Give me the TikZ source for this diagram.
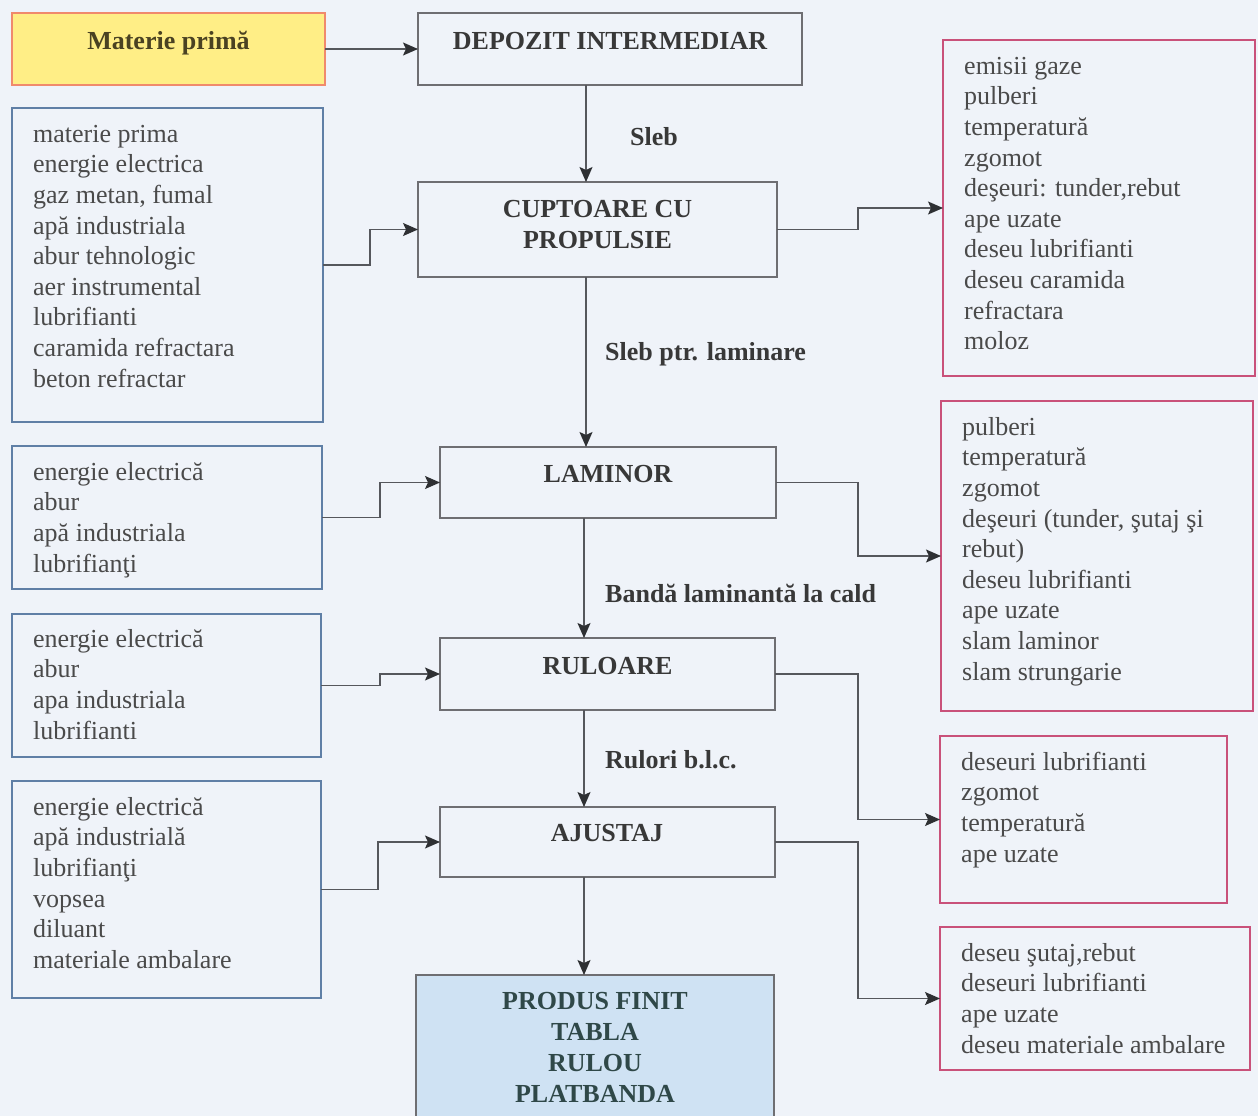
\documentclass[tikz,border=0pt]{standalone}
\usepackage{fontspec}
\setmainfont{Liberation Serif}
\usetikzlibrary{arrows.meta}

\definecolor{paper}{HTML}{EFF3F9}
\definecolor{procline}{HTML}{6E6E72}
\definecolor{inline}{HTML}{5F7FA6}
\definecolor{outline}{HTML}{C9517A}
\definecolor{rawfill}{HTML}{FFEE86}
\definecolor{rawline}{HTML}{F08A6C}
\definecolor{prodfill}{HTML}{CFE2F3}
\definecolor{listtext}{HTML}{4A4A4A}
\definecolor{headtext}{HTML}{383838}
\definecolor{prodtext}{HTML}{2F4848}
\definecolor{rawtext}{HTML}{4A4222}
\definecolor{wire}{HTML}{55575C}
\definecolor{tipc}{HTML}{2E3033}

\begin{document}
\begin{tikzpicture}[x=1pt,y=-1pt,
  frame/.style={draw, line width=1.6pt, inner sep=0pt, outer sep=0pt, anchor=north west},
  procbox/.style={frame, draw=procline},
  inbox/.style={frame, draw=inline},
  outbox/.style={frame, draw=outline},
  rawbox/.style={frame, draw=rawline, fill=rawfill},
  prodbox/.style={frame, draw=procline, fill=prodfill},
  listtxt/.style={inner sep=0pt, align=left, anchor=north west, text=listtext,
    font=\fontsize{26}{30.6}\selectfont},
  headtxt/.style={inner sep=0pt, anchor=base, text=headtext,
    font=\bfseries\fontsize{26}{31}\selectfont},
  headblock/.style={inner sep=0pt, align=center, anchor=north, text=headtext,
    font=\bfseries\fontsize{26}{31}\selectfont},
  flowlbl/.style={inner sep=0pt, anchor=base west, text=headtext,
    font=\bfseries\fontsize{26}{31}\selectfont},
  conn/.style={draw=wire, line width=1.5pt,
    -{Stealth[length=15pt,width=13pt,inset=3pt,color=tipc]}}
]
% page
\path[fill=paper] (0,0) rectangle (1258,1116);
\useasboundingbox (0,0) rectangle (1258,1116);

% main process column
\node[rawbox, minimum width=313pt, minimum height=72pt] (mat) at (12,13) {};
\node[procbox, minimum width=384pt, minimum height=72pt] (dep) at (418,13) {};
\node[procbox, minimum width=359pt, minimum height=95pt] (cup) at (418,182) {};
\node[procbox, minimum width=336pt, minimum height=71pt] (lam) at (440,447) {};
\node[procbox, minimum width=335pt, minimum height=72pt] (rul) at (440,638) {};
\node[procbox, minimum width=335pt, minimum height=70pt] (aju) at (440,807) {};
\node[prodbox, minimum width=358pt, minimum height=150pt] (prod) at (416,975) {};

\node[headtxt, text=rawtext] (matT) at (168.5,50) {Materie primă};
\node[headtxt] (depT) at (610,50) {DEPOZIT INTERMEDIAR};
\node[headblock] (cupT) at (597.5,195.5) {\strut CUPTOARE CU\\PROPULSIE};
\node[headtxt] (lamT) at (608,482) {LAMINOR};
\node[headtxt] (rulT) at (607.5,674) {RULOARE};
\node[headtxt] (ajuT) at (607,841) {AJUSTAJ};
\node[headblock, text=prodtext] (prodT) at (595,987.3) {\strut PRODUS FINIT\\TABLA\\RULOU\\PLATBANDA};

% inputs
\node[inbox, minimum width=311pt, minimum height=314pt] (in1) at (12,108) {};
\node[inbox, minimum width=310pt, minimum height=143pt] (in2) at (12,446) {};
\node[inbox, minimum width=309pt, minimum height=143pt] (in3) at (12,614) {};
\node[inbox, minimum width=309pt, minimum height=217pt] (in4) at (12,781) {};

\node[listtxt] (in1T) at (33,120.6) {\strut materie prima\\energie electrica\\gaz metan, fumal\\apă industriala\\abur tehnologic\\aer instrumental\\lubrifianti\\caramida refractara\\beton refractar};
\node[listtxt] (in2T) at (33,458.6) {\strut energie electrică\\abur\\apă industriala\\lubrifianţi};
\node[listtxt] (in3T) at (33,625.6) {\strut energie electrică\\abur\\apa industriala\\lubrifianti};
\node[listtxt] (in4T) at (33,793.6) {\strut energie electrică\\apă industrială\\lubrifianţi\\vopsea\\diluant\\materiale ambalare};

% outputs
\node[outbox, minimum width=312pt, minimum height=336pt] (out1) at (943,40) {};
\node[outbox, minimum width=312pt, minimum height=310pt] (out2) at (941,401) {};
\node[outbox, minimum width=287pt, minimum height=167pt] (out3) at (940,736) {};
\node[outbox, minimum width=310pt, minimum height=143pt] (out4) at (940,927) {};

\node[listtxt] (out1T) at (964,52.6) {\strut emisii gaze\\pulberi\\temperatură\\zgomot\\deşeuri: tunder,rebut\\ape uzate\\deseu lubrifianti\\deseu caramida\\refractara\\moloz};
\node[listtxt] (out2T) at (962,413.6) {\strut pulberi\\temperatură\\zgomot\\deşeuri (tunder, şutaj şi\\rebut)\\deseu lubrifianti\\ape uzate\\slam laminor\\slam strungarie};
\node[listtxt] (out3T) at (961,748.6) {\strut deseuri lubrifianti\\zgomot\\temperatură\\ape uzate};
\node[listtxt] (out4T) at (961,939.6) {\strut deseu şutaj,rebut\\deseuri lubrifianti\\ape uzate\\deseu materiale ambalare};

% flow labels
\node[flowlbl] (l1) at (630,145) {Sleb};
\node[flowlbl] (l2) at (605,360) {Sleb ptr. laminare};
\node[flowlbl] (l3) at (605,602) {Bandă laminantă la cald};
\node[flowlbl] (l4) at (605,768) {Rulori b.l.c.};

% connector columns
\coordinate (axA) at (586,0);
\coordinate (axB) at (584,0);
\coordinate (rcol) at (858,0);

% main flow
\draw[conn] (mat.east) -- (mat.east -| dep.west);
\draw[conn] (dep.south -| axA) -- (cup.north -| axA);
\draw[conn] (cup.south -| axA) -- (lam.north -| axA);
\draw[conn] (lam.south -| axB) -- (rul.north -| axB);
\draw[conn] (rul.south -| axB) -- (aju.north -| axB);
\draw[conn] (aju.south -| axB) -- (prod.north -| axB);

% inputs into the stages
\draw[conn] (in1.east) -- ++(47,0) |- (cup.west);
\draw[conn] (in2.east) -- ++(58,0) |- (lam.west);
\draw[conn] (in3.east) -- ++(59,0) |- (rul.west);
\draw[conn] (in4.east) -- ++(57,0) |- (aju.west);

% outputs of the stages
\draw[conn] (cup.east) -- (cup.east -| rcol) |- (out1.west);
\draw[conn] (lam.east) -- (lam.east -| rcol) |- (out2.west);
\draw[conn] (rul.east) -- (rul.east -| rcol) |- (out3.west);
\draw[conn] (aju.east) -- (aju.east -| rcol) |- (out4.west);
\end{tikzpicture}
\end{document}
